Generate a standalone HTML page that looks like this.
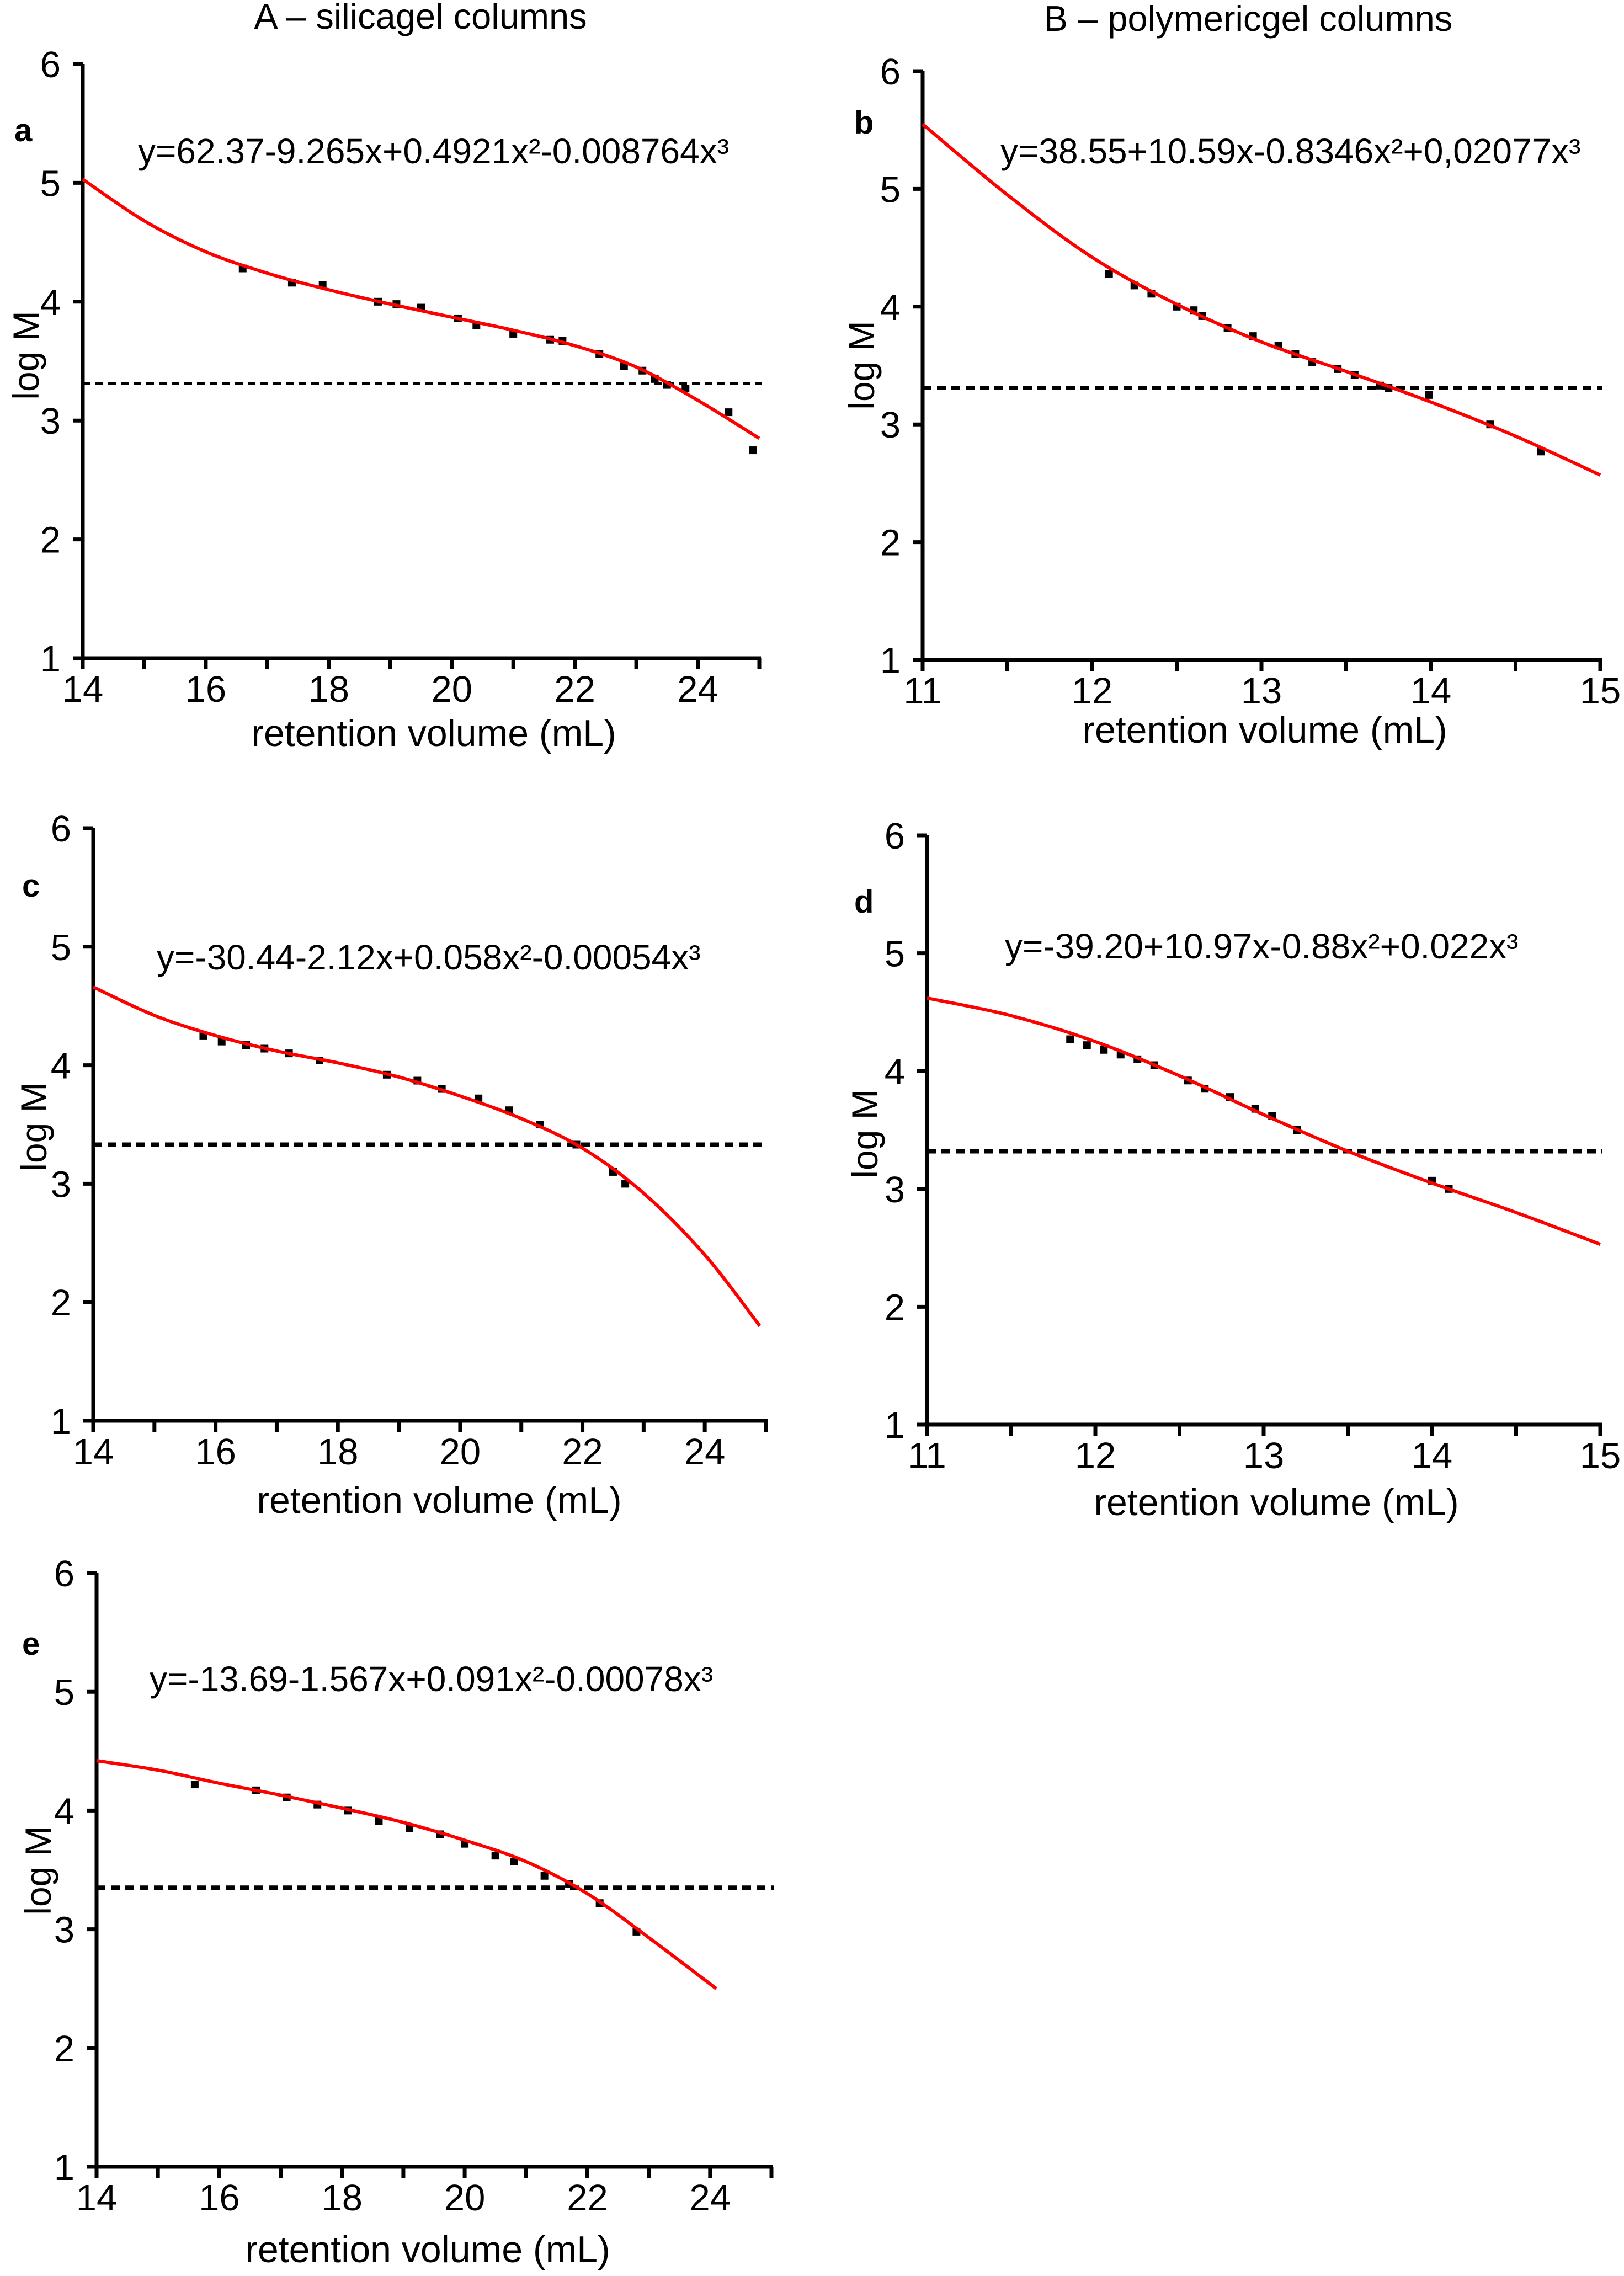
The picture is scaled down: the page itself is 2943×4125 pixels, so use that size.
<!DOCTYPE html>
<html><head><meta charset="utf-8"><style>
html,body{margin:0;padding:0;background:#fff;}
svg{display:block;}
text{font-family:"Liberation Sans",Arial,sans-serif;fill:#000;}
</style></head>
<body>
<svg id="fig" xmlns="http://www.w3.org/2000/svg" width="2943" height="4125" viewBox="0 0 2943 4125">
<rect width="2943" height="4125" fill="#fff"/>
<text x="762" y="52" font-size="65" text-anchor="middle">A – silicagel columns</text>
<text x="2262" y="56" font-size="65" text-anchor="middle">B – polymericgel columns</text>
</svg>
<script>
// ---- data ----
const aCurveX=[14,15,16,17,18,19,20,21,22,23,24,25];
const aCurveY=[5.03,4.68,4.42,4.24,4.1,3.98,3.87,3.76,3.63,3.45,3.17,2.85];
const aPtsX=[16.6,17.4,17.9,18.8,19.1,19.5,20.1,20.4,21.0,21.6,21.8,22.4,22.8,23.1,23.3,23.5,23.8,24.5,24.9];
const aPtsY=[4.28,4.16,4.14,4.0,3.98,3.95,3.86,3.8,3.73,3.68,3.67,3.56,3.46,3.42,3.35,3.3,3.27,3.07,2.75];

const bCurveX=[11,11.5,12,12.5,13,13.5,14,14.5,15];
const bCurveY=[5.55,4.95,4.42,4.02,3.7,3.45,3.19,2.9,2.57];
const bPtsX=[12.1,12.25,12.35,12.5,12.6,12.65,12.8,12.95,13.1,13.2,13.3,13.45,13.55,13.7,13.75,13.99,14.35,14.65];
const bPtsY=[4.28,4.18,4.11,4.0,3.97,3.92,3.82,3.75,3.67,3.6,3.53,3.47,3.42,3.33,3.31,3.25,3.0,2.77];

const cCurveX=[14,15,16,17,18,19,20,21,22,23,24,24.9];
const cCurveY=[4.66,4.42,4.25,4.12,4.02,3.9,3.74,3.55,3.3,2.92,2.4,1.8];
const cPtsX=[15.8,16.1,16.5,16.8,17.2,17.7,18.8,19.3,19.7,20.3,20.8,21.3,21.9,22.5,22.7];
const cPtsY=[4.25,4.2,4.17,4.14,4.1,4.04,3.92,3.87,3.8,3.72,3.62,3.5,3.33,3.1,3.0];

const dCurveX=[11,11.5,12,12.5,13,13.5,14,14.5,15];
const dCurveY=[4.62,4.47,4.25,3.96,3.63,3.32,3.05,2.8,2.53];
const dPtsX=[11.85,11.95,12.05,12.15,12.25,12.35,12.55,12.65,12.8,12.95,13.05,13.2,14.0,14.1];
const dPtsY=[4.27,4.22,4.18,4.14,4.1,4.05,3.92,3.85,3.78,3.68,3.62,3.5,3.07,3.0];

const eCurveX=[14,15,16,17,18,19,20,21,22,23,24.1];
const eCurveY=[4.42,4.34,4.23,4.13,4.02,3.9,3.75,3.57,3.3,2.93,2.5];
const ePtsX=[15.6,16.6,17.1,17.6,18.1,18.6,19.1,19.6,20.0,20.5,20.8,21.3,21.7,22.2,22.8];
const ePtsY=[4.22,4.17,4.11,4.05,4.0,3.91,3.85,3.8,3.72,3.62,3.57,3.45,3.38,3.22,2.98];

const dashedLevel=[3.31,3.31,3.33,3.32,3.35];
const yTickLabels=["1","2","3","4","5","6"];
const silicaXTicks=["14","16","18","20","22","24"];
const polyXTicks=["11","12","13","14","15"];
const equations=["y=62.37-9.265x+0.4921x²-0.008764x³","y=38.55+10.59x-0.8346x²+0,02077x³","y=-30.44-2.12x+0.058x²-0.00054x³","y=-39.20+10.97x-0.88x²+0.022x³","y=-13.69-1.567x+0.091x²-0.00078x³"];

// ---- geometry ----
const NS="http://www.w3.org/2000/svg";
const svg=document.getElementById('fig');
function mk(tag,attrs,parent){const e=document.createElementNS(NS,tag);for(const k in attrs)e.setAttribute(k,attrs[k]);(parent||svg).appendChild(e);return e;}

const panels=[
 {id:'a',ax:150,by:1193,top:116,x0:14,x1:25,minor:1,labs:silicaXTicks,cx:aCurveX,cy:aCurveY,px:aPtsX,py:aPtsY,letter:[26,256],eq:[250,296],ylab:[70,644],xt:[786,1352],dash:'thin'},
 {id:'b',ax:1672,by:1196,top:129,x0:11,x1:15,minor:0.5,labs:polyXTicks,cx:bCurveX,cy:bCurveY,px:bPtsX,py:bPtsY,letter:[1548,242],eq:[1813,296],ylab:[1584,662],xt:[2292,1346],dash:'thick'},
 {id:'c',ax:169,by:2575,top:1501,x0:14,x1:25,minor:1,labs:silicaXTicks,cx:cCurveX,cy:cCurveY,px:cPtsX,py:cPtsY,letter:[40,1625],eq:[284,1757],ylab:[84,2042],xt:[796,2742],dash:'thick'},
 {id:'d',ax:1680,by:2582,top:1514,x0:11,x1:15,minor:0.5,labs:polyXTicks,cx:dCurveX,cy:dCurveY,px:dPtsX,py:dPtsY,letter:[1548,1654],eq:[1821,1737],ylab:[1590,2055],xt:[2313,2746],dash:'thick'},
 {id:'e',ax:175,by:3927,top:2851,x0:14,x1:25,minor:1,labs:silicaXTicks,cx:eCurveX,cy:eCurveY,px:ePtsX,py:ePtsY,letter:[40,2999],eq:[271,3065],ylab:[92,3390],xt:[775,4100],dash:'thick'}
];
const rightEdge={a:1376,b:2900,c:1388,d:2900,e:1398};

panels.forEach((p,pi)=>{
 const g=mk('g',{});
 
 
 const xr=rightEdge[p.id];
 const sx=v=>p.ax+(v-p.x0)*(xr-p.ax)/(p.x1-p.x0);
 const sy=v=>p.by-(v-1)*(p.by-p.top)/5;
 const ya=mk('line',{x1:p.ax,y1:p.top,x2:p.ax,y2:p.by+3,stroke:'#000','stroke-width':7},g);
 
 
 const xa=mk('line',{x1:p.ax-18,y1:p.by,x2:xr+3,y2:p.by,stroke:'#000','stroke-width':7},g);
 
 
 yTickLabels.forEach((t,i)=>{
  const y=sy(+t);
  const tk=mk('line',{x1:p.ax-18,y1:y,x2:p.ax,y2:y,stroke:'#000','stroke-width':7},g);
  
  
  const tl=mk('text',{x:p.ax-40,y:y+24,'font-size':67,'text-anchor':'end'},g);
  tl.textContent=t;
  
  
 });
 for(let v=p.x0;v<=p.x1+1e-9;v+=p.minor){
  const x=sx(v);
  const tk=mk('line',{x1:x,y1:p.by,x2:x,y2:p.by+20,stroke:'#000','stroke-width':7},g);
  
  
 }
 p.labs.forEach(t=>{
  const tl=mk('text',{x:sx(+t),y:p.by+79,'font-size':67,'text-anchor':'middle'},g);
  tl.textContent=t;
  
  
 });
 const yd=sy(dashedLevel[pi]);
 const dl=mk('line',{x1:p.ax,y1:yd,x2:xr+4,y2:yd,stroke:'#000'},g);
 if(p.dash==='thin'){dl.setAttribute('stroke-width',5);dl.setAttribute('stroke-dasharray','14 9');}
 else{dl.setAttribute('stroke-width',8);dl.setAttribute('stroke-dasharray','16 10');}
 
 
 p.px.forEach((vx,i)=>{
  const r=mk('rect',{x:sx(vx)-7,y:sy(p.py[i])-7,width:14,height:14,fill:'#000'},g);
  
  
 });
 const P=p.cx.map((v,i)=>[sx(v),sy(p.cy[i])]);
 let d='M'+P[0][0]+','+P[0][1];
 for(let i=0;i<P.length-1;i++){
  const p0=P[Math.max(0,i-1)],p1=P[i],p2=P[i+1],p3=P[Math.min(P.length-1,i+2)];
  const c1=[p1[0]+(p2[0]-p0[0])/6,p1[1]+(p2[1]-p0[1])/6];
  const c2=[p2[0]-(p3[0]-p1[0])/6,p2[1]-(p3[1]-p1[1])/6];
  d+=' C'+c1[0]+','+c1[1]+' '+c2[0]+','+c2[1]+' '+p2[0]+','+p2[1];
 }
 const cv=mk('path',{d:d,fill:'none',stroke:'#ff0000','stroke-width':6},g);
 
 
 const lt=mk('text',{x:p.letter[0],y:p.letter[1],'font-size':58,'font-weight':'bold'},g);
 lt.textContent=p.id;
 
 
 const eq=mk('text',{x:p.eq[0],y:p.eq[1],'font-size':64},g);
 eq.textContent=equations[pi];
 
 
 const yl=mk('text',{x:p.ylab[0],y:p.ylab[1],'font-size':66,'text-anchor':'middle',transform:'rotate(-90 '+p.ylab[0]+' '+p.ylab[1]+')'},g);
 yl.textContent='log M';
 
 
 const xl=mk('text',{x:p.xt[0],y:p.xt[1],'font-size':68,'text-anchor':'middle'},g);
 xl.textContent='retention volume (mL)';
 
 
});
</script>
</body></html>
